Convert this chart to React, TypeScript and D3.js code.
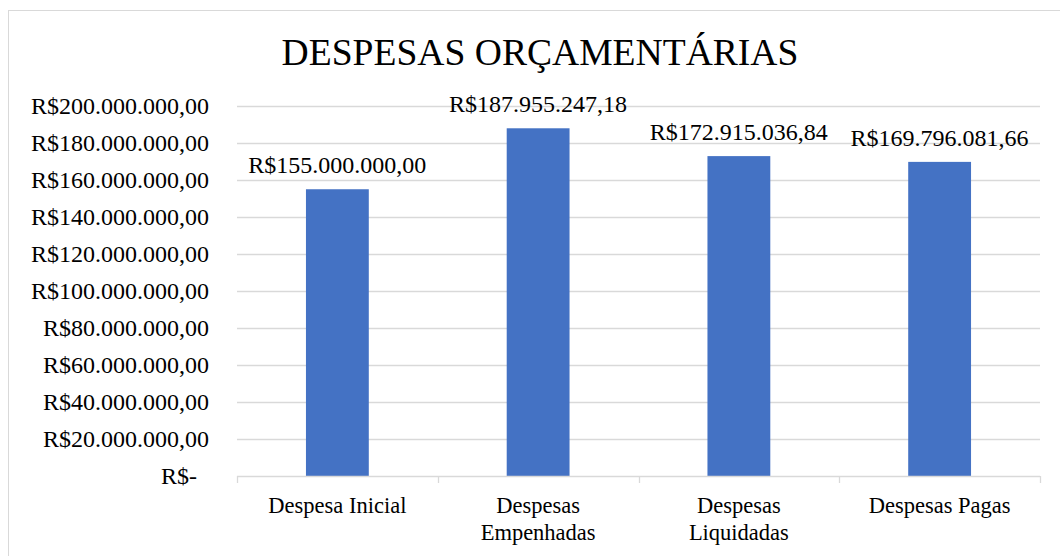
import React, { useRef, useEffect } from 'react';
import * as d3 from 'd3';

const categories = ['Despesa Inicial', 'Despesas Empenhadas', 'Despesas Liquidadas', 'Despesas Pagas'];
const categoryLines = [['Despesa Inicial'], ['Despesas', 'Empenhadas'], ['Despesas', 'Liquidadas'], ['Despesas Pagas']];
const values = [155000000, 187955247.18, 172915036.84, 169796081.66];
const yTicks = [0, 20000000, 40000000, 60000000, 80000000, 100000000, 120000000, 140000000, 160000000, 180000000, 200000000];

const TITLE = 'DESPESAS ORÇAMENTÁRIAS';
const FONT = '"Liberation Serif", "Times New Roman", serif';

const brl = d3.formatLocale({
  decimal: ',',
  thousands: '.',
  grouping: [3],
  currency: ['R$', ''],
});
const fmt = brl.format('$,.2f');
const fmtTick = (d: number) => (d === 0 ? 'R$-' : fmt(d));

const App: React.FC = () => {
  const svgRef = useRef<SVGSVGElement | null>(null);

  useEffect(() => {
    if (!svgRef.current) return;
    const width = 1060;
    const marginLeft = 237;
    const marginRight = 20;
    const marginTop = 106;
    const baseline = 476;

    const svg = d3.select(svgRef.current);
    svg.selectAll('*').remove();

    // moldura do gráfico
    svg.append('rect')
       .attr('x', 8.5).attr('y', 10.5)
       .attr('width', 1100).attr('height', 600)
       .attr('fill', '#fff')
       .attr('stroke', '#d9d9d9');

    svg.append('text')
       .attr('x', 540)
       .attr('y', 65)
       .attr('text-anchor', 'middle')
       .attr('font-family', FONT)
       .attr('font-size', '37.6px')
       .attr('fill', '#000')
       .text(TITLE);

    const xScale = d3.scaleBand()
                     .domain(categories)
                     .range([marginLeft, width - marginRight])
                     .paddingInner(0.687)
                     .paddingOuter(0.3435);

    const yScale = d3.scaleLinear()
                     .domain([0, 200000000])
                     .range([baseline, marginTop]);

    // linhas de grade
    svg.append('g')
       .selectAll('line')
       .data(yTicks.filter(d => d > 0))
       .enter()
       .append('line')
       .attr('x1', marginLeft)
       .attr('x2', width - marginRight)
       .attr('y1', d => Math.round(yScale(d)) + 0.5)
       .attr('y2', d => Math.round(yScale(d)) + 0.5)
       .attr('stroke', '#d9d9d9')
       .attr('stroke-width', 1.3);

    // rótulos do eixo y
    svg.append('g')
       .selectAll('text')
       .data(yTicks)
       .enter()
       .append('text')
       .attr('x', d => (d === 0 ? 197 : 209))
       .attr('y', d => yScale(d))
       .attr('dy', '0.35em')
       .attr('text-anchor', 'end')
       .attr('font-family', FONT)
       .attr('font-size', '24px')
       .attr('fill', '#000')
       .text(d => fmtTick(d));

    // barras
    svg.append('g')
       .selectAll('rect')
       .data(values)
       .enter()
       .append('rect')
       .attr('x', (_d, i) => xScale(categories[i])!)
       .attr('y', d => yScale(d))
       .attr('width', xScale.bandwidth())
       .attr('height', d => baseline - yScale(d))
       .attr('fill', '#4472c4');

    // rótulos de dados
    svg.append('g')
       .selectAll('text')
       .data(values)
       .enter()
       .append('text')
       .attr('x', (_d, i) => xScale(categories[i])! + xScale.bandwidth() / 2)
       .attr('y', d => yScale(d) - 16)
       .attr('text-anchor', 'middle')
       .attr('font-family', FONT)
       .attr('font-size', '24px')
       .attr('fill', '#000')
       .text(d => fmt(d));

    // eixo x
    const step = (width - marginRight - marginLeft) / categories.length;
    const axis = svg.append('g');
    axis.append('line')
        .attr('x1', marginLeft).attr('x2', width - marginRight)
        .attr('y1', baseline + 0.5).attr('y2', baseline + 0.5)
        .attr('stroke', '#d9d9d9').attr('stroke-width', 1.3);
    axis.selectAll('.tick')
        .data(d3.range(categories.length + 1))
        .enter()
        .append('line')
        .attr('x1', i => Math.round(marginLeft + i * step) + 0.5)
        .attr('x2', i => Math.round(marginLeft + i * step) + 0.5)
        .attr('y1', baseline)
        .attr('y2', baseline + 7)
        .attr('stroke', '#d9d9d9').attr('stroke-width', 1.3);

    const catG = axis.selectAll('.cat')
        .data(categories)
        .enter()
        .append('text')
        .attr('text-anchor', 'middle')
        .attr('font-family', FONT)
        .attr('font-size', '22.5px')
        .attr('fill', '#000');
    catG.each(function (d, i) {
      const t = d3.select(this);
      categoryLines[i].forEach((line, j) => {
        t.append('tspan')
         .attr('x', xScale(d)! + xScale.bandwidth() / 2)
         .attr('y', 513 + j * 27)
         .text(line);
      });
    });
  }, []);

  return (
    <svg
      ref={svgRef}
      width={1060}
      height={556}
      style={{ position: 'absolute', left: 0, top: 0, background: '#fff' }}
    />
  );
};

export default App;
